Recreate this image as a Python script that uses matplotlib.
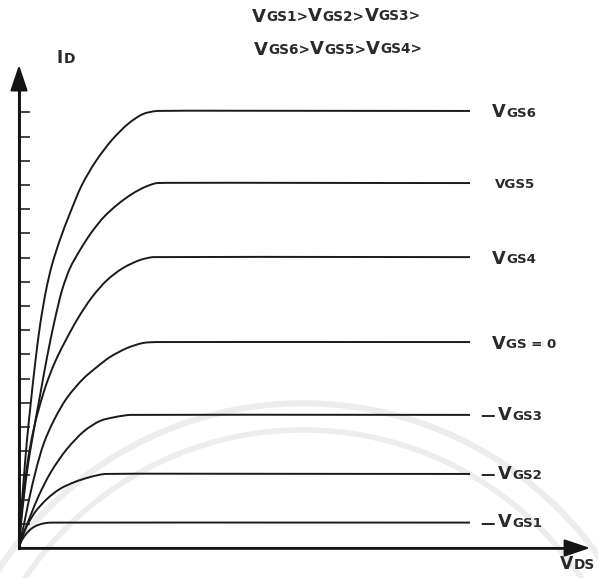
import matplotlib
matplotlib.use("Agg")
import matplotlib.pyplot as plt
import numpy as np
from matplotlib.path import Path
from matplotlib.patches import PathPatch, Circle

# ---------------- data (VDS / ID in tick units) ----------------
curve_names = ["VGS6", "VGS5", "VGS4", "VGS=0", "VGS3", "VGS2", "VGS1"]

vds_vgs6 = [0, 0.08, 0.21, 0.33, 0.50, 0.66, 0.87, 1.12, 1.36, 1.69, 2.11, 2.60, 3.18, 3.84, 4.50, 5.12, 5.70, 18.64]
id_vgs6 = [0, 1.36, 3.02, 4.46, 6.12, 7.56, 9.21, 10.66, 11.69, 12.73, 13.84, 15.00, 15.99, 16.86, 17.52, 17.93, 18.06, 18.06]

vds_vgs5 = [0, 0.08, 0.21, 0.37, 0.54, 0.70, 0.91, 1.16, 1.45, 1.78, 2.11, 2.52, 2.98, 3.51, 4.09, 4.67, 5.21, 5.70, 18.64]
id_vgs5 = [0, 0.95, 2.19, 3.43, 4.46, 5.37, 6.53, 7.89, 9.30, 10.66, 11.57, 12.31, 13.02, 13.68, 14.21, 14.63, 14.92, 15.08, 15.08]

vds_vgs4 = [0, 0.08, 0.21, 0.37, 0.58, 0.83, 1.12, 1.49, 1.94, 2.44, 3.02, 3.64, 4.30, 5.00, 5.54, 18.64]
id_vgs4 = [0, 1.16, 2.40, 3.64, 4.79, 5.79, 6.74, 7.69, 8.60, 9.50, 10.37, 11.07, 11.57, 11.90, 12.02, 12.02]

vds_vgs0 = [0, 0.08, 0.21, 0.41, 0.70, 1.03, 1.45, 1.98, 2.64, 3.22, 3.76, 4.46, 5.12, 5.70, 18.64]
id_vgs0 = [0, 0.41, 0.99, 1.98, 3.22, 4.34, 5.29, 6.20, 6.98, 7.48, 7.89, 8.26, 8.47, 8.51, 8.51]

vds_vgs3 = [0, 0.12, 0.29, 0.50, 0.83, 1.32, 1.98, 2.69, 3.35, 3.97, 4.59, 18.64]
id_vgs3 = [0, 0.41, 0.87, 1.40, 2.19, 3.14, 4.09, 4.83, 5.25, 5.41, 5.50, 5.50]

vds_vgs2 = [0, 0.08, 0.21, 0.41, 0.70, 1.16, 1.69, 2.31, 2.93, 3.55, 18.64]
id_vgs2 = [0, 0.33, 0.66, 1.07, 1.53, 2.03, 2.44, 2.73, 2.93, 3.06, 3.06]

vds_vgs1 = [0, 0.04, 0.12, 0.29, 0.50, 0.74, 1.03, 1.36, 18.64]
id_vgs1 = [0, 0.17, 0.33, 0.58, 0.79, 0.93, 1.02, 1.05, 1.05]

id_ticks = list(range(1, 19))

label_big = ["V", "", "V", "V", "V", "V", "V"]
label_small = ["GS6", "VGS5", "GS4", "GS = 0", "GS3", "GS2", "GS1"]
label_dash = [False, False, False, False, True, True, True]

top_line1 = [("V", "GS1>"), ("V", "GS2>"), ("V", "GS3>")]
top_line2 = [("V", "GS6>"), ("V", "GS5>"), ("V", "GS4>")]

# ---------------- figure ----------------
W, H = 598, 578
fig = plt.figure(figsize=(W / 100, H / 100), dpi=100)
ax = fig.add_axes([0, 0, 1, 1])
S = 24.2  # px per unit
x0_px, y0_px = 19, 548
ax.set_xlim(-x0_px / S, (W - x0_px) / S)
ax.set_ylim(-(H - y0_px) / S, y0_px / S)

axis_col = "#141414"
curve_col = "#1a1a1a"
text_col = "#2a2a2a"

x_tip = 23.6
y_tip = 19.96

# faint background seal (watermark ring)
for r, lw in [(14.95, 4.5), (13.85, 4.0)]:
    ax.add_patch(Circle((11.74, -8.97), r, fill=False, lw=lw, ec="#ededed", zorder=0))

# spines as axes through origin
for side in ["top", "right"]:
    ax.spines[side].set_visible(False)
ax.spines["left"].set_position(("data", 0))
ax.spines["bottom"].set_position(("data", 0))
ax.spines["left"].set_bounds(0, y_tip - 0.6)
ax.spines["bottom"].set_bounds(0, x_tip - 0.6)
ax.spines["left"].set_linewidth(2.1)
ax.spines["bottom"].set_linewidth(1.9)
ax.spines["left"].set_color(axis_col)
ax.spines["bottom"].set_color(axis_col)
ax.spines["left"].set_zorder(3)
ax.spines["bottom"].set_zorder(3)
ax.set_xticks([])
ax.set_yticks(id_ticks)
ax.tick_params(axis="y", direction="in", length=8, width=1.1, color=axis_col, labelleft=False)

# arrow heads
ap = dict(arrowstyle="-|>,head_length=0.8,head_width=0.27", mutation_scale=20,
          lw=1.5, color=axis_col, shrinkA=0, shrinkB=0)
ax.annotate("", xy=(0, y_tip), xytext=(0, 0), arrowprops=ap, annotation_clip=False)
ax.annotate("", xy=(x_tip, 0), xytext=(0, 0), arrowprops=ap, annotation_clip=False)


# smooth drawing of each read-off curve (cubic Bezier through the read points)
def smooth_path(xs, ys):
    P = np.column_stack([xs, ys]).astype(float)
    n = len(P)
    seg = np.hypot(*(P[1:] - P[:-1]).T)
    T = np.zeros_like(P)
    for i in range(n):
        if i == 0:
            d = P[1] - P[0]
        elif i == n - 1:
            d = P[-1] - P[-2]
        else:
            a = (P[i] - P[i - 1]) / seg[i - 1]
            b = (P[i + 1] - P[i]) / seg[i]
            d = a + b
        T[i] = d / np.hypot(*d)
    verts = [P[0]]
    codes = [Path.MOVETO]
    for i in range(n - 1):
        la = min(seg[i], seg[i - 1]) if i > 0 else seg[i]
        lb = min(seg[i], seg[i + 1]) if i + 1 < n - 1 else seg[i]
        verts += [P[i] + T[i] * la / 3.0, P[i + 1] - T[i + 1] * lb / 3.0, P[i + 1]]
        codes += [Path.CURVE4] * 3
    return Path(verts, codes)


curves = [(vds_vgs6, id_vgs6), (vds_vgs5, id_vgs5), (vds_vgs4, id_vgs4), (vds_vgs0, id_vgs0),
          (vds_vgs3, id_vgs3), (vds_vgs2, id_vgs2), (vds_vgs1, id_vgs1)]
for xs, ys in curves:
    ax.add_patch(PathPatch(smooth_path(xs, ys), fill=False, ec=curve_col, lw=1.4,
                           joinstyle="round", capstyle="butt", zorder=2))

# ---------------- text helpers ----------------
DESC = 0.236
CAP = 0.73


def chain(xy, coords, pieces):
    """pieces: list of (text, fontsize, dx_points); caps of first piece centred on xy."""
    t0, s0, dx0 = pieces[0]
    prev = ax.annotate(t0, xy=xy, xycoords=coords, xytext=(dx0, -CAP * s0 / 2),
                       textcoords="offset points", va="baseline", ha="left",
                       fontsize=s0, fontweight="bold", color=text_col, annotation_clip=False)
    ps = s0
    for t, s, dx in pieces[1:]:
        prev = ax.annotate(t, xy=(1, 0), xycoords=prev, xytext=(dx, DESC * ps),
                           textcoords="offset points", va="baseline", ha="left",
                           fontsize=s, fontweight="bold", color=text_col, annotation_clip=False)
        ps = s
    return prev


BIG, SMALL = 12.8, 9.6
JOIN = 0.1
label_x = 19.55
dash_x = 19.05
for (xs, ys), big, small, dash in zip(curves, label_big, label_small, label_dash):
    yv = ys[-1]
    if dash:
        chain((dash_x, yv), "data", [("\u2014", 10.5, 0), (big, BIG, 2.6), (small, SMALL, JOIN)])
    elif big:
        chain((label_x, yv), "data", [(big, BIG, 0), (small, SMALL, JOIN)])
    else:
        chain((label_x + 0.1, yv), "data", [(small, SMALL, 0)])

# axis labels
chain((57 / W, 1 - 57 / H), "axes fraction", [("I", 12, 0), ("D", 10, JOIN)])
chain((560 / W, 1 - 563 / H), "axes fraction", [("V", 12.4, 0), ("DS", 9.8, JOIN)])


# top text
def top_pieces(groups):
    out = []
    for i, (b, s) in enumerate(groups):
        out.append((b, 13.0, 0 if i == 0 else JOIN))
        out.append((s, 9.8, JOIN))
    return out


chain((252 / W, 1 - 15 / H), "axes fraction", top_pieces(top_line1))
chain((254 / W, 1 - 48 / H), "axes fraction", top_pieces(top_line2))

fig.savefig("out.png", dpi=100, facecolor="white")
